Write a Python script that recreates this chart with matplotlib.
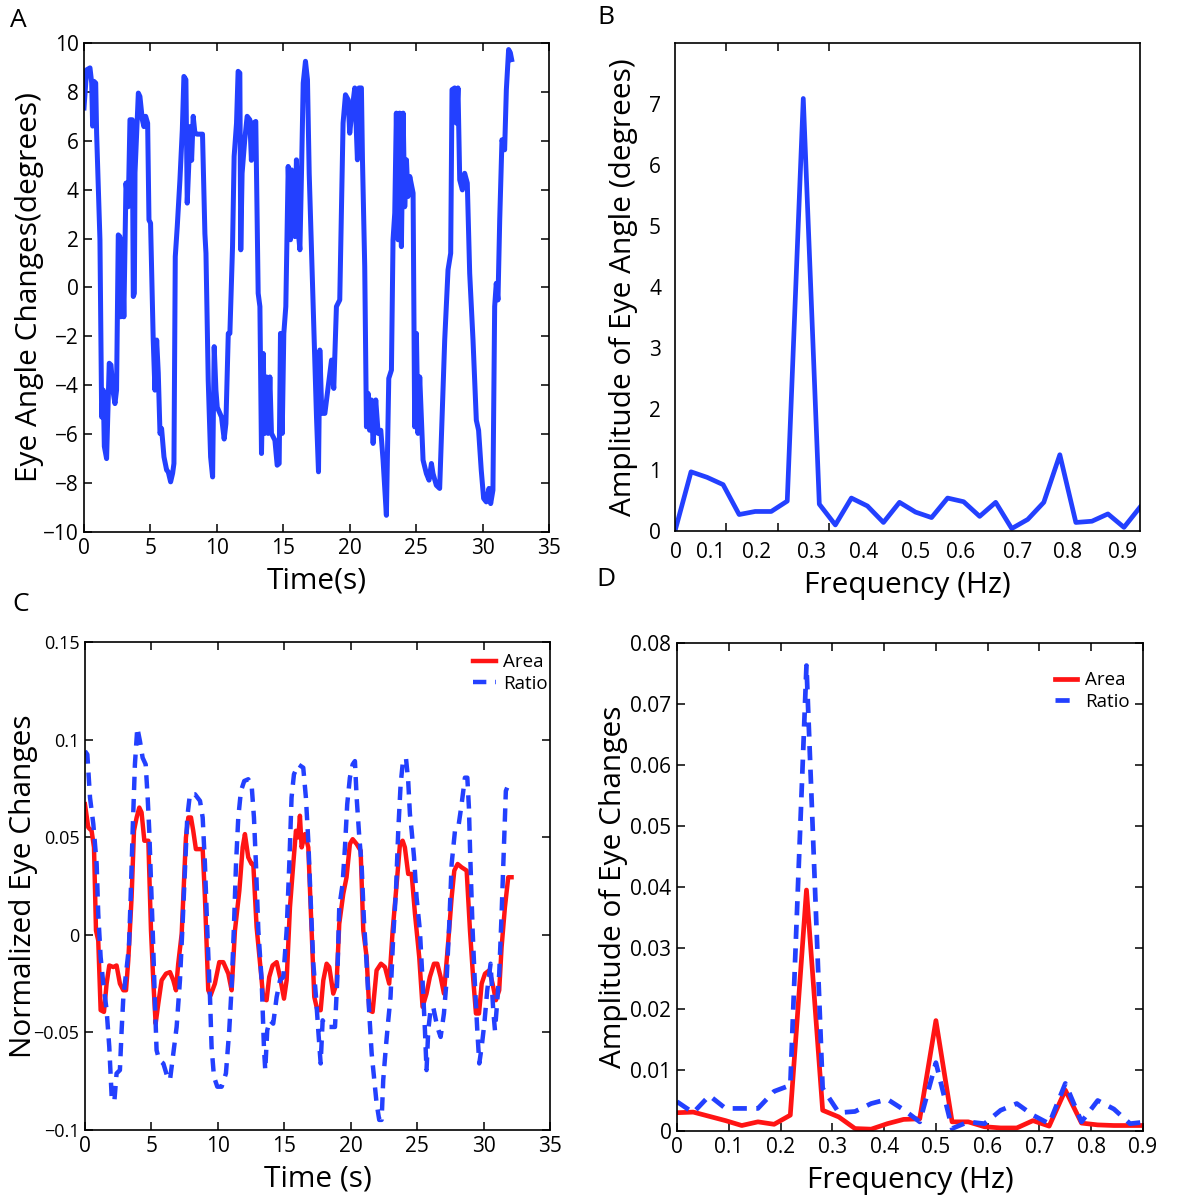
#!/usr/bin/env python3
"""
Four-panel eye angle figure: time traces (A, C) and their spectra (B, D).
"""

import numpy as np
import matplotlib
matplotlib.use('Agg')
import matplotlib.pyplot as plt
from matplotlib import ticker

plt.rcParams['font.family'] = ['Open Sans', 'DejaVu Sans']
plt.rcParams['axes.linewidth'] = 1.2
plt.rcParams['xtick.direction'] = 'in'
plt.rcParams['ytick.direction'] = 'in'

BLUE = '#2340ff'
RED = '#ff1414'

# ---- panel A: eye angle trace ----
t_a = [0.00, 0.20, 0.45, 0.58, 0.65, 0.75, 0.88, 0.95, 1.20, 1.33, 1.45, 1.53, 1.70,
       1.90, 2.03, 2.20, 2.33, 2.45, 2.58, 2.70, 2.76, 2.88, 3.00, 3.16, 3.33, 3.46,
       3.63, 3.71, 3.79, 3.84, 4.09, 4.21, 4.39, 4.51, 4.64, 4.79, 4.89, 5.01, 5.21,
       5.34, 5.47, 5.59, 5.72, 5.84, 6.02, 6.22, 6.34, 6.52, 6.67, 6.77, 6.87, 7.02,
       7.22, 7.40, 7.52, 7.67, 7.77, 7.90, 7.97, 8.10, 8.22, 8.35, 8.52, 8.92, 9.10,
       9.18, 9.35, 9.53, 9.68, 9.80, 9.93, 10.03, 10.35, 10.55, 10.68, 10.86, 10.98,
       11.18, 11.30, 11.48, 11.60, 11.73, 11.80, 11.90, 12.10, 12.28, 12.48, 12.60,
       12.73, 12.93, 13.11, 13.24, 13.36, 13.49, 13.61, 13.74, 13.86, 13.99, 14.11,
       14.37, 14.54, 14.69, 14.79, 14.92, 15.04, 15.19, 15.37, 15.54, 15.62, 15.74,
       15.87, 15.99, 16.12, 16.25, 16.37, 16.50, 16.67, 16.82, 16.95, 17.25, 17.50,
       17.65, 17.75, 17.90, 18.13, 18.38, 18.63, 18.80, 19.00, 19.25, 19.50, 19.68,
       19.88, 20.00, 20.18, 20.38, 20.58, 20.70, 20.88, 20.96, 21.13, 21.26, 21.38,
       21.50, 21.63, 21.76, 21.96, 22.14, 22.34, 22.51, 22.76, 22.94, 23.14, 23.26,
       23.39, 23.51, 23.64, 23.76, 23.89, 24.02, 24.14, 24.27, 24.39, 24.52, 24.77,
       24.89, 25.02, 25.14, 25.27, 25.52, 25.77, 25.97, 26.15, 26.27, 26.52, 26.77,
       27.15, 27.40, 27.60, 27.70, 27.90, 28.03, 28.15, 28.28, 28.48, 28.65, 28.85,
       29.03, 29.28, 29.53, 29.70, 29.90, 30.08, 30.28, 30.48, 30.61, 30.78, 30.91,
       31.03, 31.16, 31.29, 31.46, 31.66, 31.79, 31.96, 32.09, 32.19]
angle_a = [7.34, 8.90, 8.98, 8.36, 6.60, 8.43, 8.36, 6.30, 1.95, -5.30, -4.20, -6.50, -7.00,
           -3.10, -3.17, -4.30, -4.75, -4.20, 2.15, 2.08, -1.20, 1.95, -1.20, 4.27, 3.30, 6.86,
           6.86, -0.37, -0.24, 4.70, 7.95, 7.81, 6.86, 6.58, 7.00, 6.72, 2.76, 2.63, -2.15,
           -4.20, -2.15, -3.50, -5.97, -5.77, -6.93, -7.47, -7.54, -7.95, -7.60, -7.20, 1.26, 2.50,
           4.40, 6.45, 8.63, 8.50, 3.45, 5.20, 6.58, 5.20, 7.00, 6.30, 6.27, 6.27, 2.20,
           1.40, -3.80, -6.93, -7.75, -2.42, -4.20, -4.90, -5.30, -6.20, -5.57, -1.88, -1.88,
           1.67, 5.36, 6.72, 8.84, 8.77, 1.54, 4.67, 6.04, 7.00, 6.86, 5.20,
           6.72, 6.79, -0.24, -0.78, -6.79, -2.70, -5.97, -3.66, -5.97, -3.66, -5.97,
           -6.25, -7.27, -7.20, -1.88, -5.97, -1.88, -0.78, 4.95, 1.95, 4.81, 3.45,
           2.08, 5.22, 2.35, 1.54, 4.67, 8.36, 9.25, 8.50, 4.67, -0.78, -5.30,
           -7.54, -2.56, -5.15, -5.15, -4.06, -2.97, -4.13, -0.78, -0.51, 6.72, 7.88,
           7.68, 6.31, 7.27, 8.16, 5.22, 8.16, 8.16, 5.22, 0.85, -5.70, -4.33,
           -5.84, -4.60, -6.38, -4.60, -5.97, -5.84, -7.06, -9.32, -3.72, -3.38, 1.95,
           3.04, 7.13, 1.95, 7.13, 1.67, 7.13, 3.30, 5.22, 3.72, 4.54, 3.86,
           -5.70, -1.88, -5.97, -3.66, -7.06, -7.61, -7.88, -7.20, -7.61, -8.09, -8.22,
           -2.15, 0.72, 1.40, 8.09, 8.16, 6.72, 8.16, 4.40, 3.99, 4.67, 4.27,
           0.58, -2.15, -5.43, -5.84, -7.47, -8.63, -8.77, -8.22, -8.84, -8.29, -0.78,
           0.17, -0.51, 2.76, 6.04, 5.63, 8.09, 9.73, 9.60, 9.32]

# ---- panel B: spectrum of eye angle (bins of 1/32 Hz) ----
freq_b = [k / 32 for k in range(30)]
amp_b = [0.00, 0.97, 0.88, 0.76, 0.27, 0.32, 0.32, 0.49, 7.09, 0.44,
         0.10, 0.54, 0.41, 0.14, 0.47, 0.31, 0.22, 0.54, 0.48, 0.24,
         0.47, 0.04, 0.19, 0.47, 1.25, 0.14, 0.16, 0.28, 0.06, 0.39]
freq_b_labels = ['0', '0.1', '0.2', '0.3', '0.4', '0.5', '0.6', '0.7', '0.8', '0.9']

# ---- panel C: normalized eye changes ----
t_area = [0.00, 0.25, 0.50, 0.68, 0.83, 1.00, 1.18, 1.43, 1.63, 1.83, 2.13, 2.38, 2.63,
          2.89, 3.09, 3.26, 3.51, 3.69, 3.89, 4.09, 4.26, 4.47, 4.77, 4.97, 5.14, 5.32,
          5.52, 5.77, 6.10, 6.40, 6.65, 6.85, 7.02, 7.28, 7.60, 7.78, 7.98, 8.15, 8.35,
          8.86, 9.03, 9.28, 9.46, 9.78, 10.11, 10.41, 10.79, 11.04, 11.29, 11.62, 11.87,
          12.04, 12.29, 12.54, 12.67, 12.92, 13.30, 13.42, 13.67, 13.87, 14.12, 14.43,
          14.68, 14.98, 15.18, 15.43, 15.68, 15.88, 16.06, 16.18, 16.31, 16.56, 16.81,
          17.06, 17.26, 17.49, 17.74, 17.94, 18.19, 18.39, 18.69, 18.94, 19.14, 19.44,
          19.69, 19.94, 20.15, 20.45, 20.75, 20.95, 21.20, 21.40, 21.65, 21.95, 22.28,
          22.58, 22.90, 23.16, 23.46, 23.71, 23.91, 24.08, 24.33, 24.59, 24.84, 25.16,
          25.41, 25.71, 25.96, 26.27, 26.52, 26.77, 27.02, 27.35, 27.60, 27.80, 28.05,
          28.35, 28.73, 28.98, 29.23, 29.43, 29.66, 29.86, 30.11, 30.43, 30.68, 30.93,
          31.18, 31.36, 31.61, 31.86, 32.11]
area_c = [0.0669, 0.0550, 0.0533, 0.0448, 0.0022, -0.0029, -0.0386, -0.0395, -0.0250,
          -0.0157, -0.0165, -0.0157, -0.0250, -0.0284, -0.0284, -0.0131, 0.0192, 0.0533,
          0.0601, 0.0652, 0.0627, 0.0482, 0.0482, 0.0022, -0.0233, -0.0455, -0.0352,
          -0.0233, -0.0199, -0.0191, -0.0233, -0.0284, -0.0148, 0.0005, 0.0499, 0.0601,
          0.0601, 0.0533, 0.0439, 0.0439, 0.0192, -0.0284, -0.0310, -0.0250, -0.0140,
          -0.0140, -0.0199, -0.0284, 0.0022, 0.0226, 0.0448, 0.0516, 0.0397, 0.0363,
          0.0363, 0.0039, -0.0233, -0.0327, -0.0335, -0.0216, -0.0157, -0.0140, -0.0216,
          -0.0327, -0.0233, 0.0141, 0.0363, 0.0533, 0.0499, 0.0610, 0.0448, 0.0516,
          0.0448, 0.0022, -0.0318, -0.0386, -0.0386, -0.0233, -0.0148, -0.0165, -0.0301,
          -0.0250, 0.0056, 0.0209, 0.0295, 0.0465, 0.0490, 0.0465, 0.0431, 0.0022,
          -0.0114, -0.0386, -0.0395, -0.0182, -0.0148, -0.0165, -0.0250, 0.0022, 0.0260,
          0.0465, 0.0482, 0.0448, 0.0312, 0.0312, 0.0107, -0.0114, -0.0369, -0.0301,
          -0.0216, -0.0148, -0.0148, -0.0216, -0.0301, -0.0029, 0.0192, 0.0329, 0.0363,
          0.0346, 0.0329, 0.0022, -0.0233, -0.0403, -0.0403, -0.0250, -0.0199, -0.0182,
          -0.0250, -0.0335, -0.0284, -0.0063, 0.0141, 0.0295, 0.0295]

t_ratio = [0.00, 0.18, 0.38, 0.63, 0.88, 1.00, 1.18, 1.38, 1.63, 1.83, 2.01, 2.21, 2.38,
           2.63, 2.76, 2.89, 3.09, 3.31, 3.44, 3.59, 3.76, 3.94, 4.14, 4.34, 4.57, 4.72,
           4.84, 4.97, 5.14, 5.27, 5.39, 5.59, 5.90, 6.20, 6.40, 6.65, 6.90, 7.15, 7.35,
           7.55, 7.70, 7.90, 8.28, 8.66, 8.86, 9.03, 9.21, 9.41, 9.53, 9.71, 9.96, 10.29,
           10.61, 10.86, 11.04, 11.22, 11.37, 11.54, 11.74, 11.99, 12.29, 12.54, 12.72,
           12.87, 13.05, 13.30, 13.47, 13.57, 13.72, 13.92, 14.17, 14.43, 14.68, 14.93,
           15.18, 15.38, 15.55, 15.73, 16.06, 16.43, 16.63, 16.81, 16.98, 17.19, 17.39,
           17.56, 17.74, 17.89, 18.14, 18.44, 18.82, 18.99, 19.14, 19.39, 19.57, 19.74,
           19.94, 20.15, 20.32, 20.45, 20.65, 20.82, 21.00, 21.20, 21.40, 21.58, 21.78,
           21.95, 22.15, 22.33, 22.45, 22.65, 22.83, 23.00, 23.20, 23.41, 23.58, 23.76,
           23.91, 24.16, 24.33, 24.46, 24.59, 24.77, 24.96, 25.21, 25.41, 25.59, 25.71,
           25.84, 26.01, 26.21, 26.52, 26.77, 27.02, 27.22, 27.42, 27.60, 27.85, 28.10,
           28.35, 28.60, 28.78, 28.90, 28.98, 29.18, 29.35, 29.53, 29.68, 29.86, 30.06,
           30.28, 30.53, 30.73, 30.86, 30.98, 31.18, 31.36, 31.53, 31.68, 31.78]
ratio_c = [0.0941, 0.0924, 0.0703, 0.0567, 0.0363, 0.0107, -0.0114, -0.0250, -0.0386,
           -0.0574, -0.0829, -0.0855, -0.0710, -0.0693, -0.0489, -0.0318, -0.0199, -0.0063,
           0.0192, 0.0533, 0.0873, 0.1061, 0.0992, 0.0907, 0.0873, 0.0703, 0.0533, 0.0277,
           -0.0063, -0.0352, -0.0591, -0.0642, -0.0659, -0.0727, -0.0744, -0.0608, -0.0472,
           -0.0233, 0.0056, 0.0363, 0.0601, 0.0720, 0.0720, 0.0686, 0.0601, 0.0363, 0.0022,
           -0.0318, -0.0574, -0.0727, -0.0778, -0.0778, -0.0710, -0.0489, -0.0267, 0.0056,
           0.0363, 0.0601, 0.0737, 0.0788, 0.0797, 0.0771, 0.0601, 0.0363, 0.0022, -0.0233,
           -0.0574, -0.0693, -0.0489, -0.0438, -0.0455, -0.0318, -0.0233, -0.0216, 0.0022,
           0.0363, 0.0703, 0.0822, 0.0873, 0.0856, 0.0703, 0.0482, 0.0192, -0.0148, -0.0318,
           -0.0489, -0.0659, -0.0438, -0.0472, -0.0472, -0.0472, -0.0233, 0.0141, 0.0260,
           0.0448, 0.0669, 0.0805, 0.0873, 0.0890, 0.0703, 0.0499, 0.0363, 0.0073, -0.0148,
           -0.0403, -0.0608, -0.0744, -0.0863, -0.0948, -0.0948, -0.0744, -0.0574, -0.0438,
           -0.0318, -0.0012, 0.0226, 0.0533, 0.0771, 0.0873, 0.0907, 0.0788, 0.0618, 0.0533,
           0.0397, 0.0192, 0.0022, -0.0233, -0.0489, -0.0693, -0.0489, -0.0386, -0.0369,
           -0.0472, -0.0523, -0.0403, -0.0233, 0.0056, 0.0363, 0.0533, 0.0550, 0.0669,
           0.0805, 0.0805, 0.0652, 0.0448, 0.0022, -0.0250, -0.0489, -0.0659, -0.0574,
           -0.0455, -0.0284, -0.0148, -0.0386, -0.0489, -0.0386, -0.0199, 0.0107, 0.0448,
           0.0737, 0.0754]

# ---- panel D: spectra of normalized changes ----
freq_d = [k / 32 for k in range(30)]
area_d = [0.0030, 0.0031, 0.0024, 0.0017, 0.0009, 0.0015, 0.0011, 0.0026, 0.0395, 0.0034,
          0.0023, 0.0004, 0.0003, 0.0012, 0.0019, 0.0020, 0.0181, 0.0015, 0.0015, 0.0007,
          0.0005, 0.0005, 0.0017, 0.0008, 0.0067, 0.0013, 0.0010, 0.0009, 0.0009, 0.0009]
ratio_d = [0.0048, 0.0030, 0.0058, 0.0037, 0.0037, 0.0037, 0.0065, 0.0075, 0.0763, 0.0070,
           0.0030, 0.0032, 0.0045, 0.0052, 0.0035, 0.0015, 0.0112, 0.0004, 0.0015, 0.0012,
           0.0034, 0.0045, 0.0026, 0.0012, 0.0078, 0.0015, 0.0050, 0.0036, 0.0012, 0.0015]


def g_fmt(v, _):
    return f'{v:g}'.replace('-', '\u2212')


def style_box(ax, size=15):
    ax.tick_params(top=True, right=True, length=6, width=1.1, labelsize=size, pad=4)


def put_ylabel(ax, text, x):
    # centre of the rotated label, in axes coordinates
    ax.set_ylabel(text, fontsize=21.5, va='center')
    ax.yaxis.set_label_coords(x, 0.5)


fig = plt.figure(figsize=(12, 12), dpi=100)

# A
ax_a = fig.add_axes([0.070, 0.5567, 0.3875, 0.4075])
ax_a.plot(t_a, angle_a, color=BLUE, lw=3.6, solid_joinstyle='round')
ax_a.set_xlim(0, 35)
ax_a.set_ylim(-10, 10)
ax_a.set_xticks(range(0, 36, 5))
ax_a.set_yticks(range(-10, 11, 2))
ax_a.yaxis.set_major_formatter(ticker.FuncFormatter(g_fmt))
style_box(ax_a)
ax_a.set_xlabel('Time(s)', fontsize=21.5, labelpad=6)
put_ylabel(ax_a, 'Eye Angle Changes(degrees)', -0.118)

# B
ax_b = fig.add_axes([0.5625, 0.5575, 0.3875, 0.4067])
ax_b.plot(freq_b, amp_b, color=BLUE, lw=3.4, solid_joinstyle='round')
ax_b.set_xlim(0, 29 / 32)
ax_b.set_ylim(0, 8)
ax_b.set_yticks(range(0, 8))
# the labels of this panel sit a little left of the real tick marks
ax_b.set_xticks([0.002, 0.070, 0.158, 0.267, 0.368, 0.468, 0.557, 0.667, 0.766, 0.873])
ax_b.set_xticklabels(freq_b_labels)
ax_b.set_xticks([0.1, 0.2, 0.3], minor=True)
ax_b.tick_params(axis='x', which='major', length=0, labelsize=15, pad=8)
ax_b.tick_params(axis='x', which='minor', top=True, length=6, width=1.1)
ax_b.tick_params(axis='y', length=0, labelsize=15, pad=10)
ax_b.set_xlabel('Frequency (Hz)', fontsize=21.5, labelpad=6)
put_ylabel(ax_b, 'Amplitude of Eye Angle (degrees)', -0.11)

# C
ax_c = fig.add_axes([0.0708, 0.0583, 0.3875, 0.4067])
ax_c.plot(t_area, area_c, color=RED, lw=3.2, solid_joinstyle='round', label='Area')
ax_c.plot(t_ratio, ratio_c, color=BLUE, lw=3.2, dashes=(3, 2), label='Ratio')
ax_c.set_xlim(0, 35)
ax_c.set_ylim(-0.1, 0.15)
ax_c.set_xticks(range(0, 36, 5))
ax_c.set_yticks([-0.1, -0.05, 0, 0.05, 0.1, 0.15])
ax_c.yaxis.set_major_formatter(ticker.FuncFormatter(g_fmt))
style_box(ax_c, size=13)
ax_c.tick_params(axis='x', labelsize=15)
ax_c.set_xlabel('Time (s)', fontsize=21.5, labelpad=6)
put_ylabel(ax_c, 'Normalized Eye Changes', -0.133)
ax_c.legend(loc='upper right', bbox_to_anchor=(1.02, 1.0), frameon=False,
            fontsize=13.5, handlelength=1.2, handletextpad=0.4, labelspacing=0.2,
            borderaxespad=0.2)

# D
ax_d = fig.add_axes([0.5642, 0.0575, 0.3883, 0.4067])
ax_d.plot(freq_d, area_d, color=RED, lw=3.4, solid_joinstyle='round', label='Area')
ax_d.plot(freq_d, ratio_d, color=BLUE, lw=3.4, dashes=(3, 2), label='Ratio')
ax_d.set_xlim(0, 0.9)
ax_d.set_ylim(0, 0.08)
ax_d.set_xticks(np.arange(0, 0.91, 0.1))
ax_d.set_yticks(np.arange(0, 0.081, 0.01))
ax_d.xaxis.set_major_formatter(ticker.FuncFormatter(g_fmt))
ax_d.yaxis.set_major_formatter(ticker.FuncFormatter(g_fmt))
style_box(ax_d)
ax_d.set_xlabel('Frequency (Hz)', fontsize=21.5, labelpad=6)
put_ylabel(ax_d, 'Amplitude of Eye Changes', -0.137)
ax_d.legend(loc='upper right', bbox_to_anchor=(0.995, 0.965), frameon=False,
            fontsize=13.5, handlelength=1.2, handletextpad=0.4, labelspacing=0.2,
            borderaxespad=0.2)

# panel letters
for letter, x, y in [('A', 0.015, 0.983), ('B', 0.505, 0.985),
                     ('C', 0.017, 0.496), ('D', 0.505, 0.517)]:
    fig.text(x, y, letter, fontsize=19, ha='center', va='center')

fig.savefig('out.png', dpi=100)
